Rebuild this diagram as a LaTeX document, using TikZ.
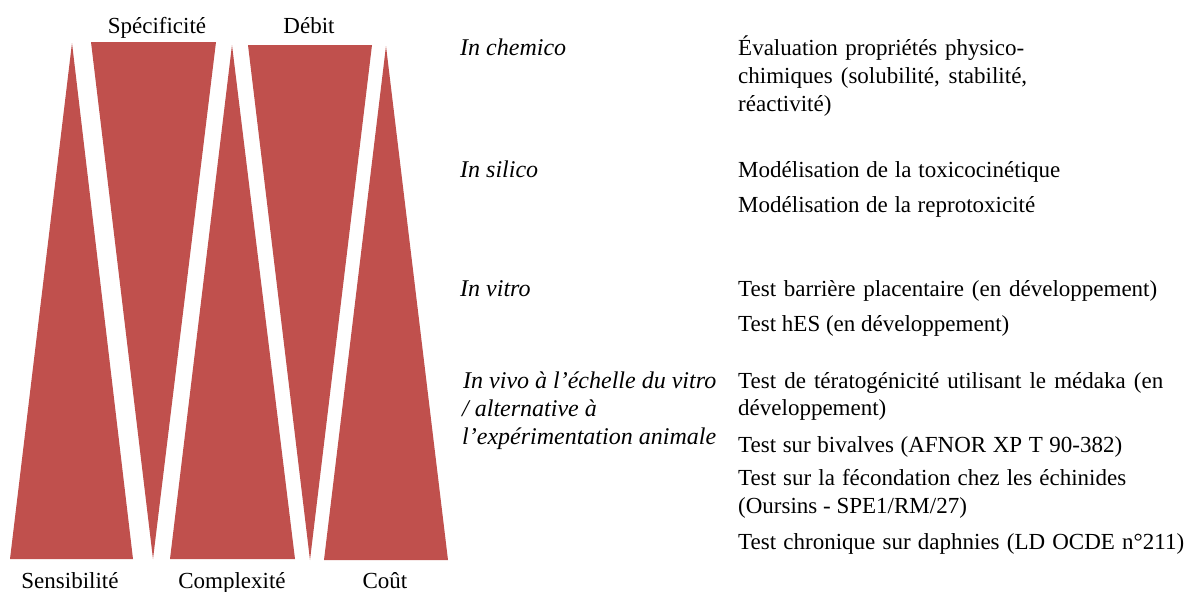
\documentclass[tikz,border=0pt]{standalone}
\usepackage{fontspec}
\setmainfont{Liberation Serif}
\definecolor{tred}{HTML}{C0504D}
\newsavebox\lbox
\newcommand\fitline[2]{\sbox\lbox{#2}\ifdim\wd\lbox<#1\relax\makebox[#1][s]{#2}\else\usebox\lbox\fi}
\begin{document}
\begin{tikzpicture}[x=1pt,y=-1pt,
  tri/.style={fill=tred},
  lbl/.style={inner sep=0pt,anchor=base,font=\fontsize{23}{27}\selectfont},
  txt/.style={inner sep=0pt,anchor=base west,font=\fontsize{23}{27}\selectfont},
  itx/.style={txt,font=\fontsize{24}{28}\selectfont\itshape}]
\useasboundingbox[fill=white] (0,0) rectangle (1187,592);
% triangles
\fill[tri] (72,43) -- (133,559) -- (10,559) -- cycle;
\fill[tri] (91,42) -- (216,42) -- (153,559) -- cycle;
\fill[tri] (232,45) -- (295,559) -- (170,559) -- cycle;
\fill[tri] (248,45) -- (372,45) -- (310,560) -- cycle;
\fill[tri] (386,46) -- (448,560) -- (324,560) -- cycle;
% labels
\node[lbl] (spec) at (157,33) {Spécificité};
\node[lbl] (debit) at (309,33) {Débit};
\node[lbl] (sens) at (70,588) {Sensibilité};
\node[lbl] (compl) at (232,588) {Complexité};
\node[lbl] (cout) at (385,588) {Coût};
% left column
\node[itx] (l1) at (460,55) {In chemico};
\node[itx] (l2) at (460,177) {In silico};
\node[itx] (l3) at (460,296) {In vitro};
\node[itx] (l4) at (463,388) {In vivo à l’échelle du vitro};
\node[itx] (l5) at (462,416) {/ alternative à};
\node[itx] (l6) at (462,444) {l’expérimentation animale};
% right column
\node[txt] (r1) at (738,55) {\fitline{286pt}{Évaluation propriétés physico-}};
\node[txt] (r2) at (738,83) {\fitline{289pt}{chimiques (solubilité, stabilité,}};
\node[txt] (r3) at (738,111) {réactivité)};
\node[txt] (r4) at (738,177) {\fitline{322pt}{Modélisation de la toxicocinétique}};
\node[txt] (r5) at (738,212) {\fitline{297pt}{Modélisation de la reprotoxicité}};
\node[txt] (r6) at (738,296) {\fitline{419pt}{Test barrière placentaire (en développement)}};
\node[txt] (r7) at (738,331) {Test hES (en développement)};
\node[txt] (r8) at (738,388) {\fitline{425pt}{Test de tératogénicité utilisant le médaka (en}};
\node[txt] (r9) at (738,415) {développement)};
\node[txt] (r10) at (738,452) {\fitline{384pt}{Test sur bivalves (AFNOR XP T 90-382)}};
\node[txt] (r11) at (738,485) {\fitline{388pt}{Test sur la fécondation chez les échinides}};
\node[txt] (r12) at (738,513) {(Oursins - SPE1/RM/27)};
\node[txt] (r13) at (738,549) {\fitline{446pt}{Test chronique sur daphnies (LD OCDE n°211)}};
\end{tikzpicture}
\end{document}
